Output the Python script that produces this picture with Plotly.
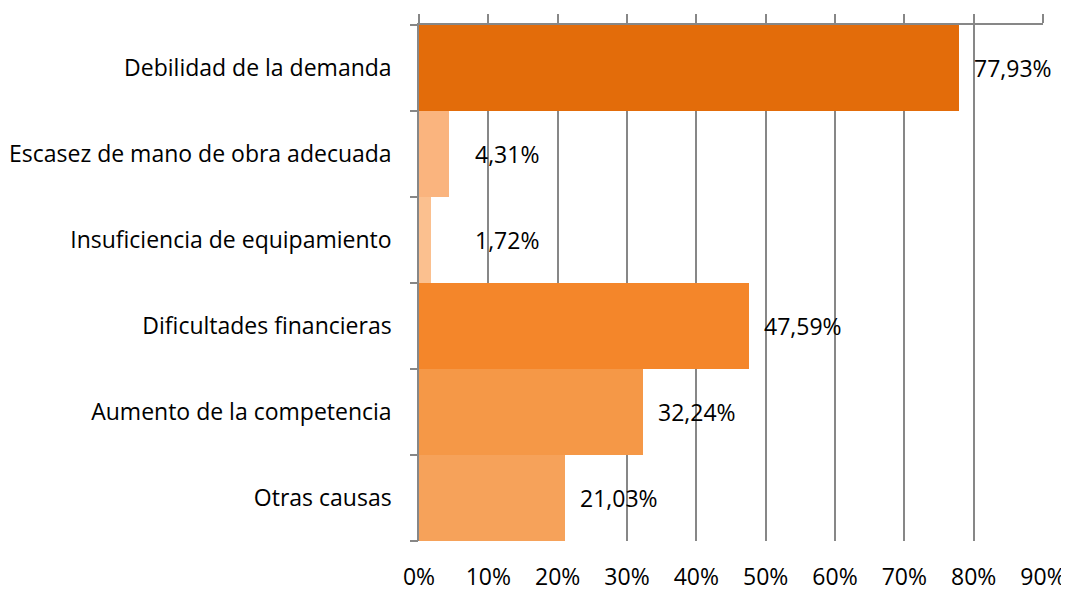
import plotly.graph_objects as go

categories = ["Debilidad de la demanda", "Escasez de mano de obra adecuada",
              "Insuficiencia de equipamiento", "Dificultades financieras",
              "Aumento de la competencia", "Otras causas"]
values = [77.93, 4.31, 1.72, 47.59, 32.24, 21.03]
labels = ["77,93%", "4,31%", "1,72%", "47,59%", "32,24%", "21,03%"]
colors = ["#E36C0A", "#FAB47E", "#FBC08F", "#F4862A", "#F59847", "#F6A25A"]
x_ticks = [0, 10, 20, 30, 40, 50, 60, 70, 80, 90]
x_ticktext = [f"{t}%" for t in x_ticks]

FONT = "Open Sans"
FS = 23
GRAY = "#878787"

fig = go.Figure()
fig.add_trace(go.Bar(y=categories, x=values, orientation="h",
                     marker=dict(color=colors, line=dict(width=0)),
                     hoverinfo="skip"))
# helper trace so the overlay axes are drawn
fig.add_trace(go.Scatter(x=[None], y=[None], xaxis="x2", yaxis="y2",
                         showlegend=False, hoverinfo="skip"))

for cat, v, lab in zip(categories, values, labels):
    fig.add_annotation(x=max(v, 5.9), y=cat,
                       text=lab, showarrow=False, xanchor="left", xshift=13,
                       font=dict(family=FONT, size=FS, color="#000000"))

fig.update_layout(
    width=1061, height=587,
    margin=dict(l=411, r=26, t=17, b=54),
    paper_bgcolor="white", plot_bgcolor="white",
    bargap=0, showlegend=False,
    font=dict(family=FONT, size=FS, color="#000000"),
    xaxis=dict(range=[0, 90], tickvals=x_ticks, ticktext=x_ticktext,
               showgrid=True, gridcolor=GRAY, gridwidth=1.5,
               showline=False, zeroline=False, ticks="",
               ticklabelstandoff=20, automargin=False),
    xaxis2=dict(range=[0, 90], overlaying="x", side="top", tickvals=x_ticks,
                showticklabels=False, ticks="outside", ticklen=9,
                tickcolor=GRAY, tickwidth=1.5, showline=True,
                linecolor=GRAY, linewidth=1.5, showgrid=False, zeroline=False,
                automargin=False),
    yaxis=dict(categoryorder="array", categoryarray=categories,
               autorange="reversed", ticks="", showline=True,
               linecolor=GRAY, linewidth=1.5, ticklabelstandoff=21,
               showgrid=False, automargin=False),
    yaxis2=dict(range=[5.5, -0.5], overlaying="y", side="left",
                tickvals=[-0.5, 0.5, 1.5, 2.5, 3.5, 4.5, 5.5],
                showticklabels=False, ticks="outside", ticklen=8,
                tickcolor=GRAY, tickwidth=1.5, showline=False,
                showgrid=False, zeroline=False, automargin=False),
)

fig.write_html("out.html")
